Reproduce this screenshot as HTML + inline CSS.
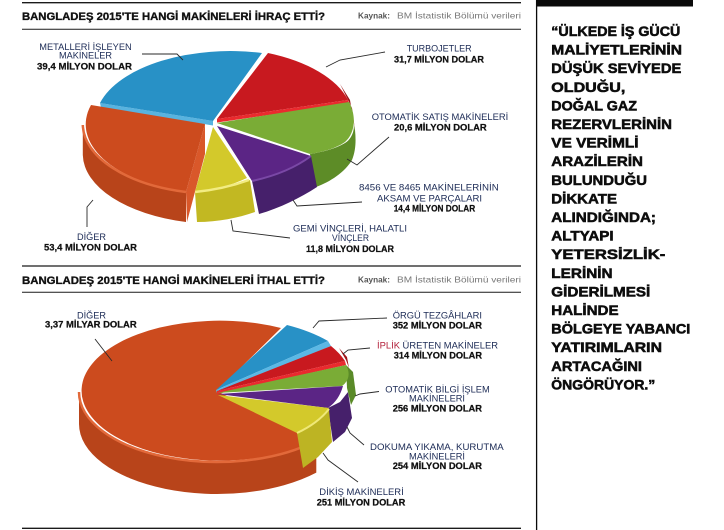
<!DOCTYPE html>
<html>
<head>
<meta charset="utf-8">
<style>
  html,body{margin:0;padding:0;background:#fff;}
  svg{display:block;}
  text{font-family:"Liberation Sans","DejaVu Sans",sans-serif;}
  .lb{font-size:9.5px;fill:#1b2a55;}
  .bd{font-size:9.5px;font-weight:bold;fill:#111;stroke:#111;stroke-width:0.25;}
  .q{font-size:14px;font-weight:bold;fill:#0d0d0d;stroke:#0d0d0d;stroke-width:0.55;}
  .tt{font-size:11.2px;font-weight:bold;fill:#111;stroke:#111;stroke-width:0.35;}
  .ld{fill:none;stroke:#2a2a2a;stroke-width:0.9;}
</style>
</head>
<body>
<svg width="724" height="530" viewBox="0 0 724 530" xmlns="http://www.w3.org/2000/svg">
<rect width="724" height="530" fill="#fff"/>

<!-- frame lines -->
<line x1="22" y1="2.7" x2="521" y2="2.7" stroke="#1a1a1a" stroke-width="1.3"/>
<line x1="22" y1="29.3" x2="521" y2="29.3" stroke="#1a1a1a" stroke-width="1"/>
<line x1="22" y1="266" x2="521" y2="266" stroke="#1a1a1a" stroke-width="1.3"/>
<line x1="22" y1="292.3" x2="521" y2="292.3" stroke="#1a1a1a" stroke-width="1"/>
<line x1="22" y1="528.3" x2="521" y2="528.3" stroke="#1a1a1a" stroke-width="1.3"/>

<!-- headers -->
<text class="tt" x="22" y="20" textLength="303" lengthAdjust="spacingAndGlyphs">BANGLADEŞ 2015'TE HANGİ MAKİNELERİ İHRAÇ ETTİ?</text>
<text x="358" y="18.5" font-size="8.5" font-weight="bold" fill="#555" textLength="32" lengthAdjust="spacingAndGlyphs">Kaynak:</text>
<text x="397" y="18.5" font-size="8.5" fill="#777" textLength="124" lengthAdjust="spacingAndGlyphs">BM İstatistik Bölümü verileri</text>

<text class="tt" x="22" y="284" textLength="303" lengthAdjust="spacingAndGlyphs">BANGLADEŞ 2015'TE HANGİ MAKİNELERİ İTHAL ETTİ?</text>
<text x="358" y="282.5" font-size="8.5" font-weight="bold" fill="#555" textLength="32" lengthAdjust="spacingAndGlyphs">Kaynak:</text>
<text x="397" y="282.5" font-size="8.5" fill="#777" textLength="124" lengthAdjust="spacingAndGlyphs">BM İstatistik Bölümü verileri</text>

<!-- ===== PIE 1 ===== -->
<!-- blue -->
<path d="M100,103 L213,121 L213,125.5 L101,107.5 Z" fill="#58b3df"/>
<path d="M213,121 L100,103 A135,70 0 0 1 262,53 Z" fill="#2891c6"/>
<!-- red -->
<path d="M340,84 L350,100 L355,130 L352,108 Z" fill="#9e1519"/>
<path d="M217,119 L268,53 A135,70 0 0 1 348,100 Z" fill="#c8191f"/>
<path d="M217,119 L348,100 L349,103.5 L217,122.5 Z" fill="#ea2a2e"/>
<!-- green -->
<path d="M354,125 C354,134 350,140 345,143 C335,149 322,152 310,154 L316,187 C330,182 345,172 352,160 C356,150 356,140 355,130 Z" fill="#5d8c27"/>
<path d="M217,123 L349,102 C356,115 356,132 345,142 C335,149 322,152 310,154 Z" fill="#7aac36"/>
<!-- orange -->
<path d="M186,192 A135,70 0 0 1 82.8,125 L82.8,155 A135,70 0 0 0 186,222 Z" fill="#b8441a"/>
<path d="M205,124 L186,192 L187,222 L205,154 Z" fill="#d9582a"/>
<path d="M205,124 L186,192 A135,70 0 0 1 91,105 Z" fill="#cc4b1e"/>
<path d="M186,192 A135,70 0 0 1 82.8,125" fill="none" stroke="#e2693a" stroke-width="2.5"/>
<!-- purple -->
<path d="M311,156 C295,168 275,176 252,181 L259,214 C280,208 300,198 317,187 Z" fill="#46206b"/>
<path d="M217,126 L311,156 C295,168 275,176 252,181 Z" fill="#5b2585"/>
<path d="M311,156 C295,168 275,176 252,181" fill="none" stroke="#7a48a6" stroke-width="2"/>
<!-- yellow -->
<path d="M195,192 C215,190 235,185 250,180 L255,212 C238,218 218,222 197,222 Z" fill="#c2b822"/>
<path d="M213,127 L247,178 C232,185 215,190 195,192 Z" fill="#d3c92b"/>
<path d="M195,192 C215,190 235,185 249,180" fill="none" stroke="#f2ec82" stroke-width="2.5"/>

<!-- pie 1 leaders -->
<polyline class="ld" points="142,54 177,54 183,60"/>
<polyline class="ld" points="385,52 340,60 326,67"/>
<polyline class="ld" points="389,137 357,165 347,159"/>
<polyline class="ld" points="293,200 297,206 362,202"/>
<polyline class="ld" points="231,220 233,231 290,238"/>
<polyline class="ld" points="93,200 87,207 87,227"/>

<!-- pie 1 labels -->
<text class="lb" x="39.3" y="50" textLength="92.4" lengthAdjust="spacingAndGlyphs">METALLERİ İŞLEYEN</text>
<text class="lb" x="59" y="58.7" textLength="53" lengthAdjust="spacingAndGlyphs">MAKİNELER</text>
<text class="bd" x="37" y="69.3" textLength="95" lengthAdjust="spacingAndGlyphs">39,4 MİLYON DOLAR</text>

<text class="lb" x="406.7" y="51.7" textLength="65" lengthAdjust="spacingAndGlyphs">TURBOJETLER</text>
<text class="bd" x="394" y="62.3" textLength="90" lengthAdjust="spacingAndGlyphs">31,7 MİLYON DOLAR</text>

<text class="lb" x="371.7" y="120" textLength="136.6" lengthAdjust="spacingAndGlyphs">OTOMATİK SATIŞ MAKİNELERİ</text>
<text class="bd" x="394" y="130.7" textLength="92.7" lengthAdjust="spacingAndGlyphs">20,6 MİLYON DOLAR</text>

<text class="lb" x="359" y="190.7" textLength="139.7" lengthAdjust="spacingAndGlyphs">8456 VE 8465 MAKİNELERİNİN</text>
<text class="lb" x="377" y="201.7" textLength="105" lengthAdjust="spacingAndGlyphs">AKSAM VE PARÇALARI</text>
<text class="bd" x="393.7" y="211.7" textLength="81.5" lengthAdjust="spacingAndGlyphs">14,4 MİLYON DOLAR</text>

<text class="lb" x="293" y="231.5" textLength="114" lengthAdjust="spacingAndGlyphs">GEMİ VİNÇLERİ, HALATLI</text>
<text class="lb" x="332" y="241" textLength="37" lengthAdjust="spacingAndGlyphs">VİNÇLER</text>
<text class="bd" x="306" y="252" textLength="88" lengthAdjust="spacingAndGlyphs">11,8 MİLYON DOLAR</text>

<text class="lb" x="77" y="240" textLength="29" lengthAdjust="spacingAndGlyphs">DİĞER</text>
<text class="bd" x="44" y="250.7" textLength="93" lengthAdjust="spacingAndGlyphs">53,4 MİLYON DOLAR</text>

<!-- ===== PIE 2 ===== -->
<!-- orange (big) -->
<path d="M316.3,440.6 A138,70 0 0 1 79,392 L79,424 A138,70 0 0 0 316.3,472.6 Z" fill="#b8441a"/>
<path d="M217,391 L316.3,440.6 A138,70 0 1 1 281,328 Z" fill="#cc4b1e"/>
<path d="M316.3,440.6 A138,70 0 0 1 79,392" fill="none" stroke="#e2693a" stroke-width="2.5"/>
<!-- blue -->
<path d="M216,390 L287,325 A138,70 0 0 1 328,341 Z" fill="#2891c6"/>
<path d="M216,390 L328,341 L331,346 L217,393 Z" fill="#5bb8e5"/>
<!-- red -->
<path d="M339,348 L346,360 L349,368 L347,357 Z" fill="#9e1519"/>
<path d="M217,391 L331,346 A138,70 0 0 1 345,361 Z" fill="#c8191f"/>
<path d="M217,391 L345,361 L346,365 L217,394 Z" fill="#ea2a2e"/>
<!-- green -->
<path d="M346,365 L353,372 L356,395 L351,405 L347,388 Z" fill="#5a8a28"/>
<path d="M217,393 L346,365 C350,372 350,380 342,386 Z" fill="#7aac36"/>
<!-- purple -->
<path d="M328,408 L340,402 L348,392 L352,418 L345,432 L333,442 Z" fill="#46206b"/>
<path d="M218,394 L343,386 C340,396 336,402 328,408 Z" fill="#5b2585"/>
<!-- yellow -->
<path d="M297,433 L313,424 L329,410 L332,442 L318,457 L303,468 Z" fill="#bdb423"/>
<path d="M218,395 L329,408 C322,418 312,426 297,433 Z" fill="#d3c92b"/>
<path d="M329,409 C322,418 312,426 297,433" fill="none" stroke="#efe878" stroke-width="2"/>

<!-- pie 2 leaders -->
<polyline class="ld" points="95,339 112,361"/>
<polyline class="ld" points="313,328 319,321 387,318"/>
<polyline class="ld" points="343,354 348,350 370,348"/>
<polyline class="ld" points="355,396 360,394 379,391.5"/>
<polyline class="ld" points="347,427 350,433 364,445"/>
<polyline class="ld" points="323,453 328,460 358,482"/>

<!-- pie 2 labels -->
<text class="lb" x="77" y="318.3" textLength="29" lengthAdjust="spacingAndGlyphs">DİĞER</text>
<text class="bd" x="45" y="327.7" textLength="91.7" lengthAdjust="spacingAndGlyphs">3,37 MİLYAR DOLAR</text>

<text class="lb" x="392.7" y="318.3" textLength="89.3" lengthAdjust="spacingAndGlyphs">ÖRGÜ TEZGÂHLARI</text>
<text class="bd" x="392.7" y="328.3" textLength="89.3" lengthAdjust="spacingAndGlyphs">352 MİLYON DOLAR</text>

<text class="lb" x="377" y="348.3" textLength="121" lengthAdjust="spacingAndGlyphs"><tspan fill="#b3203a">İPLİK</tspan> ÜRETEN MAKİNELER</text>
<text class="bd" x="393.7" y="358.3" textLength="88.3" lengthAdjust="spacingAndGlyphs">314 MİLYON DOLAR</text>

<text class="lb" x="385.3" y="392.3" textLength="104.4" lengthAdjust="spacingAndGlyphs">OTOMATİK BİLGİ İŞLEM</text>
<text class="lb" x="409" y="401.7" textLength="56" lengthAdjust="spacingAndGlyphs">MAKİNELERİ</text>
<text class="bd" x="392.7" y="411.7" textLength="89.3" lengthAdjust="spacingAndGlyphs">256 MİLYON DOLAR</text>

<text class="lb" x="370" y="450" textLength="133.7" lengthAdjust="spacingAndGlyphs">DOKUMA YIKAMA, KURUTMA</text>
<text class="lb" x="409" y="459.3" textLength="56" lengthAdjust="spacingAndGlyphs">MAKİNELERİ</text>
<text class="bd" x="392.7" y="469" textLength="89.3" lengthAdjust="spacingAndGlyphs">254 MİLYON DOLAR</text>

<text class="lb" x="319.3" y="495" textLength="84.4" lengthAdjust="spacingAndGlyphs">DİKİŞ MAKİNELERİ</text>
<text class="bd" x="316.7" y="505.7" textLength="88.6" lengthAdjust="spacingAndGlyphs">251 MİLYON DOLAR</text>

<!-- ===== QUOTE BOX ===== -->
<rect x="536" y="0" width="157" height="6.5" fill="#0a0a0a"/>
<line x1="536.6" y1="0" x2="536.6" y2="530" stroke="#0a0a0a" stroke-width="1.3"/>

<text class="q" x="551.3" y="36" textLength="129" lengthAdjust="spacingAndGlyphs">“ÜLKEDE İŞ GÜCÜ</text>
<text class="q" x="551.3" y="54.6" textLength="130.7" lengthAdjust="spacingAndGlyphs">MALİYETLERİNİN</text>
<text class="q" x="551.3" y="73.2" textLength="130" lengthAdjust="spacingAndGlyphs">DÜŞÜK SEVİYEDE</text>
<text class="q" x="551.3" y="91.8" textLength="74" lengthAdjust="spacingAndGlyphs">OLDUĞU,</text>
<text class="q" x="551.3" y="110.4" textLength="85.7" lengthAdjust="spacingAndGlyphs">DOĞAL GAZ</text>
<text class="q" x="551.3" y="129" textLength="120.7" lengthAdjust="spacingAndGlyphs">REZERVLERİNİN</text>
<text class="q" x="551.3" y="147.6" textLength="87.3" lengthAdjust="spacingAndGlyphs">VE VERİMLİ</text>
<text class="q" x="551.3" y="166.2" textLength="91.7" lengthAdjust="spacingAndGlyphs">ARAZİLERİN</text>
<text class="q" x="551.3" y="184.8" textLength="95.7" lengthAdjust="spacingAndGlyphs">BULUNDUĞU</text>
<text class="q" x="551.3" y="203.4" textLength="65.7" lengthAdjust="spacingAndGlyphs">DİKKATE</text>
<text class="q" x="551.3" y="222" textLength="104.7" lengthAdjust="spacingAndGlyphs">ALINDIĞINDA;</text>
<text class="q" x="551.3" y="240.6" textLength="62.3" lengthAdjust="spacingAndGlyphs">ALTYAPI</text>
<text class="q" x="551.3" y="259.2" textLength="114" lengthAdjust="spacingAndGlyphs">YETERSİZLİK-</text>
<text class="q" x="551.3" y="277.8" textLength="61.3" lengthAdjust="spacingAndGlyphs">LERİNİN</text>
<text class="q" x="551.3" y="296.4" textLength="99" lengthAdjust="spacingAndGlyphs">GİDERİLMESİ</text>
<text class="q" x="551.3" y="315" textLength="67.3" lengthAdjust="spacingAndGlyphs">HALİNDE</text>
<text class="q" x="551.3" y="333.6" textLength="139" lengthAdjust="spacingAndGlyphs">BÖLGEYE YABANCI</text>
<text class="q" x="551.3" y="352.2" textLength="110.7" lengthAdjust="spacingAndGlyphs">YATIRIMLARIN</text>
<text class="q" x="551.3" y="370.8" textLength="90.7" lengthAdjust="spacingAndGlyphs">ARTACAĞINI</text>
<text class="q" x="551.3" y="389.4" textLength="104" lengthAdjust="spacingAndGlyphs">ÖNGÖRÜYOR.”</text>
</svg>
</body>
</html>
